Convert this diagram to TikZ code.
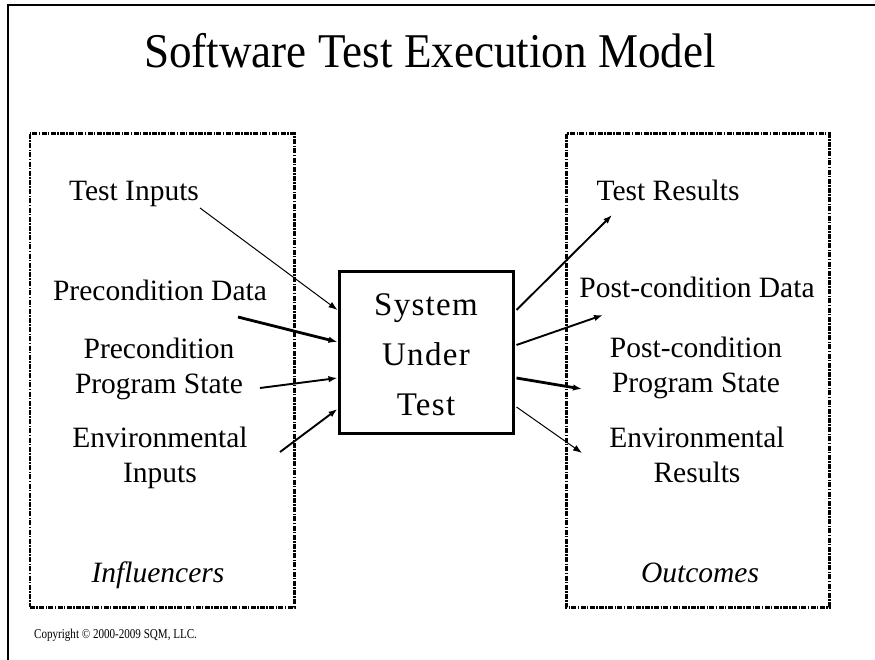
\documentclass[tikz,border=0pt]{standalone}
\usepackage{fontspec}
\setmainfont{Liberation Serif}
\newfontfamily\titlefont[FakeStretch=0.93]{Liberation Serif}
\newfontfamily\smallfont[FakeStretch=0.82]{Liberation Serif}
\usetikzlibrary{arrows.meta}
\begin{document}
\begin{tikzpicture}[x=1pt,y=-1pt,
  lbl/.style={align=center,font=\fontsize{29.5}{35}\selectfont,inner sep=0pt},
  grp/.style={line width=3pt,dash pattern=on 5pt off 1.4pt on 1.4pt off 1.4pt},
  thinside/.style={line width=1.2pt,dash pattern=on 5pt off 1.4pt on 1.4pt off 1.4pt},
  arr/.style={-{Latex[length=9pt,width=6.5pt]}},
  w1/.style={arr,line width=1pt},
  w2/.style={arr,line width=1.9pt},
  w3/.style={arr,line width=2.8pt}]
\useasboundingbox (0,0) rectangle (875,660);
% outer frame
\draw[line width=2.4pt] (8,700) -- (8,5) -- (900,5);
% title
\node[anchor=base,font=\titlefont\fontsize{48.5}{56}\selectfont,inner sep=0pt] (title) at (430,68) {Software Test Execution Model};
% group boxes
\draw[thinside] (30,134) -- (30,607);
\draw[grp] (30,607) -- (294,607) -- (294,134) -- (30,134);
\draw[grp] (566,134) rectangle (829,607);
% system under test
\node[draw,line width=3pt,minimum width=174pt,minimum height=161pt,inner sep=0pt] (sut) at (426,352.5) {};
\node[align=center,font=\addfontfeatures{LetterSpace=4}\fontsize{33}{50}\selectfont,inner sep=0pt] (sutl) at (426,355) {System\\Under\\Test};
% left labels
\node[lbl,anchor=base] (ti) at (134,201) {Test Inputs};
\node[lbl,anchor=base] (pd) at (160,300) {Precondition Data};
\node[lbl,anchor=base] (ps) at (159,393) {Precondition\\Program State};
\node[lbl,anchor=base] (ei) at (160,482) {Environmental\\Inputs};
\node[lbl,anchor=base,font=\itshape\fontsize{29.5}{35}\selectfont] (inf) at (158,582) {Influencers};
% right labels
\node[lbl,anchor=base] (tr) at (668,201) {Test Results};
\node[lbl,anchor=base] (pcd) at (697,298) {Post-condition Data};
\node[lbl,anchor=base] (pcs) at (696,392) {Post-condition\\Program State};
\node[lbl,anchor=base] (er) at (697,482) {Environmental\\Results};
\node[lbl,anchor=base,font=\itshape\fontsize{29.5}{35}\selectfont] (out) at (700,582) {Outcomes};
% copyright
\node[anchor=base west,font=\smallfont\fontsize{13.5}{15}\selectfont,inner sep=0pt] (copy) at (34,638) {Copyright \textcopyright{} 2000-2009 SQM, LLC.};
% arrow end coordinates
\coordinate (a1) at (200,208);
\coordinate (a2) at (238,317);
\coordinate (a3) at (260,388);
\coordinate (a4) at (280,452);
\coordinate (b1) at (612,215);
\coordinate (b2) at (603,315);
\coordinate (b3) at (582,389);
\coordinate (b4) at (582,453);
% inputs
\draw[w1] (a1) -- (sut.west |- 0,310);
\draw[w3] (a2) -- (sut.west |- 0,342);
\draw[w2] (a3) -- (sut.west |- 0,378);
\draw[w2] (a4) -- (sut.west |- 0,409);
% outputs
\draw[w2] ([xshift=2pt]sut.east |- 0,310) -- (b1);
\draw[w2] ([xshift=2pt]sut.east |- 0,345) -- (b2);
\draw[w3] ([xshift=2pt]sut.east |- 0,378) -- (b3);
\draw[w1] ([xshift=2pt]sut.east |- 0,407) -- (b4);
\end{tikzpicture}
\end{document}
